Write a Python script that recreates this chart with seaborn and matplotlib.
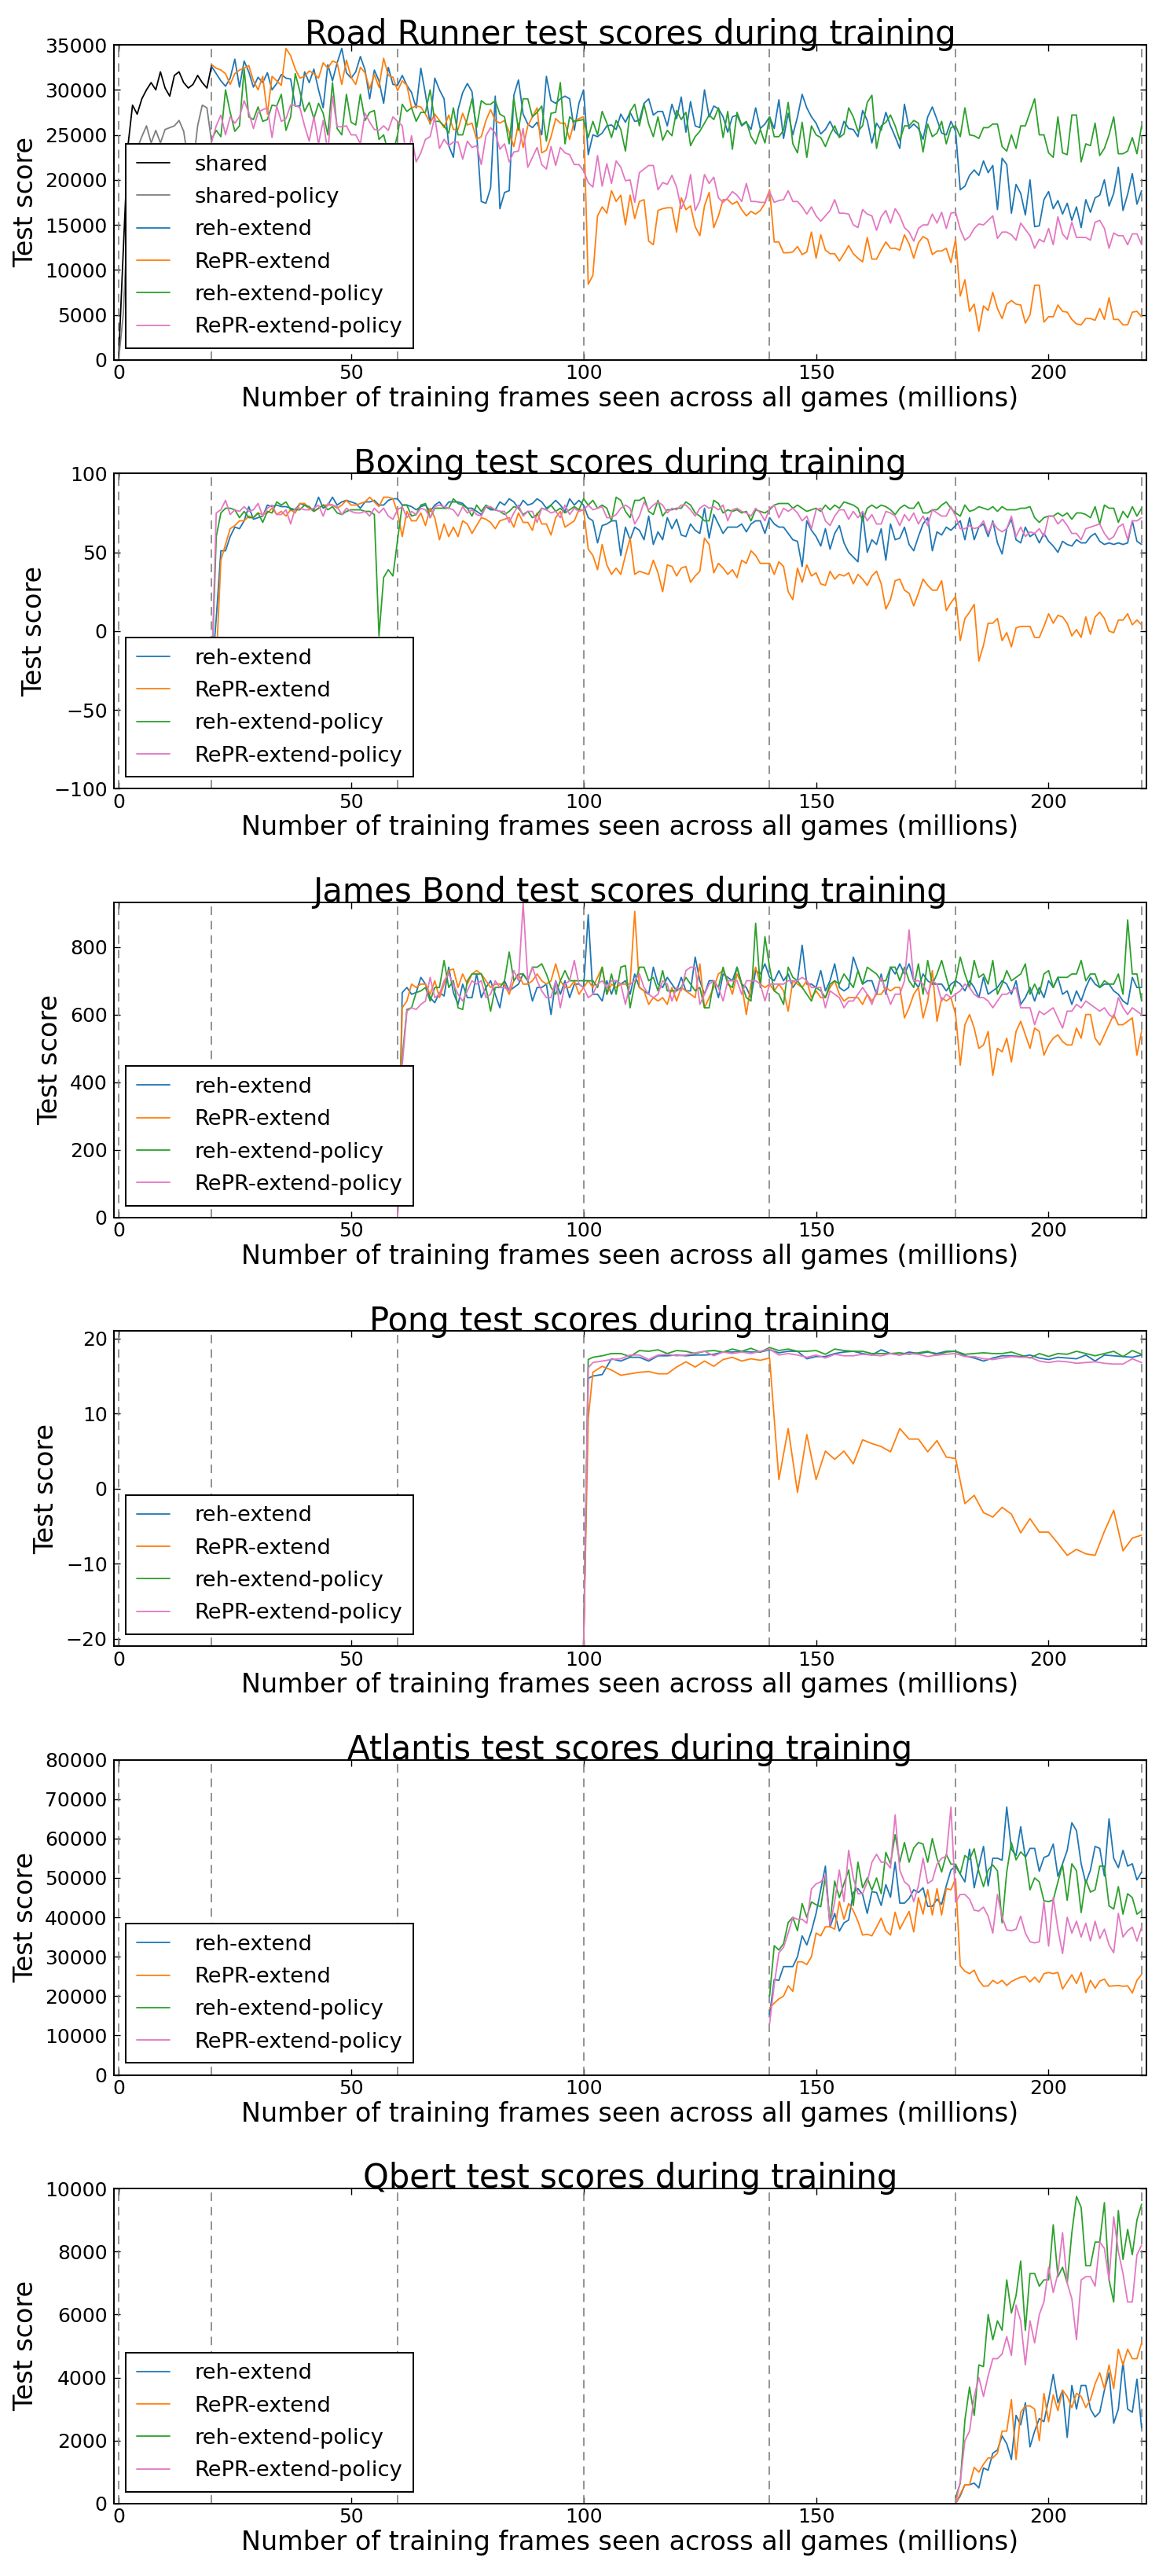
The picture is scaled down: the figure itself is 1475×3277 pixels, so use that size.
import numpy as np
import matplotlib.pyplot as plt
import seaborn as sns

# --- scores (x = millions of frames seen) ---
methods = ['reh-extend', 'RePR-extend', 'reh-extend-policy', 'RePR-extend-policy']
colors = ['#1f77b4', '#ff7f0e', '#2ca02c', '#e377c2']
task_edges = [0, 20, 60, 100, 140, 180, 220]

# Road Runner
x_shared = np.arange(0, 21)
rr_shared = [0, 12000, 23700, 28300, 27300, 29000, 30000, 30800, 30000, 32000, 30200,
             29300, 31600, 32000, 30800, 30200, 30600, 31600, 30800, 30200, 32700]
rr_shared_policy = [0, 5000, 16000, 21000, 23500, 24800, 26000, 24100, 25500, 24100, 25600,
                    25800, 26000, 26600, 25400, 22000, 21500, 26000, 28300, 28000, 24200]

x_rr = np.arange(20, 221)
rr_reh = [32600, 31800, 31000, 30400, 31300, 33400, 30300, 33200, 32000, 30300,
          31400, 30800, 31900, 30000, 30700, 31700, 31300, 31200, 28200, 28200,
          32000, 30800, 32300, 30000, 28000, 32800, 31000, 33000, 34600, 31900,
          31300, 32000, 33700, 32200, 29000, 32200, 31000, 28500, 32500, 30600,
          30500, 31600, 30500, 29700, 28000, 32400, 29500, 26200, 31300, 30000,
          29000, 23800, 22500, 27800, 29700, 30700, 29800, 25200, 17600, 17400,
          19100, 29300, 16800, 18600, 18800, 29400, 31100, 27300, 26200, 25800,
          26400, 25000, 31500, 28800, 28500, 29000, 29300, 29000, 25500, 28500,
          30000, 22800, 25000, 24800, 25200, 26000, 26100, 25600, 27300, 26400,
          27500, 26500, 26600, 28500, 29000, 27200, 27600, 27600, 26000, 28400,
          26800, 29200, 25300, 28700, 26000, 25800, 30000, 27000, 28200, 27900,
          27000, 25300, 27000, 27200, 26000, 26400, 25600, 28000, 25700, 26200,
          27000, 25700, 28900, 24600, 27400, 25000, 27000, 29500, 28000, 27000,
          26300, 25100, 25600, 26500, 25400, 24800, 26500, 25700, 25600, 24800,
          27700, 26600, 24100, 26300, 25500, 27500, 26000, 24800, 23500, 28400,
          25700, 26200, 25700, 24500, 27000, 28100, 26700, 25200, 25000, 26500,
          25400, 18900, 19300, 20500, 21100, 20500, 22100, 20800, 21600, 16700,
          22400, 21700, 16300, 19500, 18500, 16100, 20000, 14800, 14900, 17800,
          18700, 16800, 17700, 16200, 17400, 15500, 17000, 14700, 17800, 16400,
          18000, 18300, 20000, 17100, 18500, 21400, 16600, 18400, 20700, 17300,
          18800]
rr_repr = [32800, 32400, 32200, 31800, 30600, 31800, 32200, 32400, 32700, 31000,
           30000, 31500, 27300, 31500, 31000, 30500, 34600, 33800, 32300, 31300,
           31500, 32100, 31800, 31300, 33000, 32400, 33200, 33000, 30600, 33300,
           31400, 30600, 32500, 31900, 30100, 31700, 30300, 33500, 31600, 31400,
           29900, 31000, 30500, 28000, 28200, 28100, 27300, 26300, 27300, 26600,
           25800, 27200, 25600, 25600, 27400, 26100, 26300, 24500, 24800, 26600,
           27800, 26600, 26300, 26600, 25300, 23700, 26300, 23600, 26000, 27000,
           28000, 23000, 23300, 24800, 26800, 26300, 26300, 24500, 26500, 26800,
           27000, 8400, 9400, 16000, 17000, 16300, 18800, 17600, 18300, 15000,
           18300, 15700, 17600, 17800, 13200, 12800, 16600, 16800, 16900, 16900,
           14200, 18000, 16700, 17100, 14800, 13800, 17100, 18600, 14700, 16000,
           17800, 17800, 17300, 17600, 16700, 16000, 16500, 16200, 16600, 17400,
           18900, 13100, 13100, 11900, 11900, 12000, 12600, 11700, 12000, 14200,
           11300, 13900, 12200, 11800, 11800, 11000, 11800, 12700, 11800, 11300,
           10900, 13600, 11200, 11200, 12200, 13100, 12400, 12400, 12200, 13900,
           12900, 11300, 13000, 13700, 13400, 11700, 12100, 12100, 12400, 10800,
           13400, 7100, 8900, 5400, 6200, 3200, 6000, 5500, 7500, 5700,
           4600, 6200, 6600, 6200, 6100, 4100, 5000, 8300, 8300, 4200,
           4800, 4800, 6100, 5400, 5300, 4500, 4000, 3900, 4600, 4600,
           4400, 5700, 4500, 6900, 4500, 4500, 3900, 3900, 5300, 5400,
           4800]
rr_reh_policy = [24500, 25500, 24800, 30000, 27500, 25400, 26000, 32300, 27000, 26700,
                 28100, 26500, 26700, 28300, 28200, 29500, 25500, 27000, 31800, 29800,
                 27600, 28600, 26800, 28500, 27400, 25000, 30800, 25700, 25000, 29500,
                 26400, 26100, 29500, 26600, 27500, 27700, 24500, 25000, 23000, 23000,
                 25000, 28400, 27600, 28000, 26500, 27500, 27500, 30000, 26500, 26500,
                 26000, 25200, 28000, 25000, 25000, 26800, 29000, 25800, 28800, 28400,
                 28400, 28800, 27300, 27000, 24000, 29100, 25500, 29000, 29000, 27000,
                 27500, 28200, 24300, 27400, 27500, 30800, 24000, 27000, 26500, 26600,
                 26700, 24700, 26500, 25000, 27600, 26300, 24700, 26600, 25600, 23200,
                 27600, 28400, 26000, 28400, 26200, 24800, 27000, 24400, 25500, 24900,
                 27700, 26700, 27500, 23800, 24800, 25400, 26300, 27200, 26700, 28000,
                 24700, 27600, 23400, 27500, 26100, 26500, 24800, 24000, 25600, 24100,
                 27000, 24800, 24800, 25500, 28600, 24000, 23000, 26400, 22500, 26000,
                 25000, 24700, 23700, 25000, 26000, 24700, 25100, 28000, 27000, 25400,
                 26000, 28600, 29400, 23500, 26000, 26400, 27200, 26000, 24400, 26000,
                 26000, 26600, 26300, 23100, 26200, 24800, 25200, 26500, 24000, 25800,
                 26000, 24800, 28000, 25000, 24900, 24600, 25800, 25800, 26200, 26200,
                 23700, 23200, 25000, 23500, 26000, 26000, 27500, 29000, 25000, 25000,
                 23000, 22500, 27000, 23000, 22800, 27200, 27200, 22000, 24000, 23800,
                 26300, 22700, 23500, 25000, 27000, 22900, 22900, 23200, 24700, 22900,
                 26000]
rr_repr_policy = [24200, 26000, 27200, 25000, 27000, 26300, 27000, 28800, 27500, 25700,
                  27500, 27800, 28000, 24700, 28200, 26500, 26800, 28300, 28300, 28000,
                  26000, 24300, 27000, 24000, 26600, 23000, 29300, 25900, 25900, 26000,
                  25000, 25000, 24000, 27400, 26400, 25600, 25500, 26000, 25500, 27000,
                  26500, 26000, 22000, 24900, 22000, 23000, 24500, 24800, 27000, 23500,
                  24500, 23800, 24200, 24200, 22300, 24300, 23600, 23800, 21700, 24900,
                  25800, 25200, 23400, 24000, 22000, 23100, 23200, 25700, 21400, 22500,
                  23600, 21700, 21200, 23700, 21600, 23600, 23000, 22800, 21700, 21700,
                  21000, 19700, 19200, 22700, 19300, 21800, 19600, 22100, 21400, 19900,
                  20000, 17500, 20800, 21200, 21600, 21600, 18900, 19700, 19500, 20500,
                  19200, 16800, 18000, 20600, 16600, 17700, 20600, 19600, 20300, 18000,
                  17500, 18000, 18700, 18300, 17600, 19600, 17600, 17600, 17500, 17500,
                  18700, 17500, 17700, 17800, 18800, 17600, 17600, 17000, 16200, 17000,
                  16000, 15400, 16000, 16600, 17800, 16300, 16300, 16200, 15000, 14700,
                  16700, 16200, 16000, 14400, 15900, 16600, 15200, 16800, 16000, 14700,
                  14200, 13200, 14600, 15000, 15000, 16200, 15200, 16400, 14600, 16300,
                  16400, 14500, 13300, 13700, 14600, 15100, 15000, 15500, 16000, 13500,
                  14200, 14200, 13900, 13300, 15200, 14500, 13800, 12400, 13400, 13100,
                  14600, 12800, 15900, 14000, 13400, 15300, 13600, 13600, 13600, 13300,
                  15300, 15500, 14600, 12400, 14100, 13800, 13800, 12800, 14000, 14000,
                  12800]

# Boxing
x_box = np.arange(20, 221)
box_reh = [-30, 8, 51, 51, 60, 66, 65, 70, 79, 71,
           72, 73, 80, 79, 80, 79, 79, 78, 77, 81,
           80, 78, 77, 85, 78, 80, 85, 80, 82, 83,
           82, 81, 78, 82, 82, 83, 80, 80, 83, 84,
           84, 80, 80, 79, 77, 79, 80, 76, 80, 82,
           78, 82, 82, 82, 81, 78, 78, 76, 74, 79,
           77, 77, 82, 80, 84, 82, 78, 83, 80, 81,
           84, 82, 78, 80, 83, 80, 76, 84, 80, 83,
           80, 72, 70, 56, 67, 68, 70, 70, 48, 66,
           58, 66, 64, 58, 73, 55, 63, 58, 72, 65,
           71, 61, 60, 68, 64, 62, 78, 59, 74, 68,
           62, 66, 66, 66, 68, 63, 68, 70, 70, 62,
           72, 68, 66, 66, 62, 58, 57, 41, 70, 64,
           60, 54, 65, 52, 62, 67, 56, 50, 47, 44,
           75, 50, 58, 55, 65, 45, 68, 58, 59, 66,
           55, 51, 60, 68, 72, 51, 63, 61, 66, 64,
           67, 70, 58, 72, 58, 66, 68, 60, 70, 56,
           49, 65, 71, 58, 56, 66, 60, 62, 56, 62,
           57, 54, 50, 57, 55, 54, 58, 56, 56, 60,
           62, 57, 55, 56, 55, 56, 55, 56, 70, 57,
           55]
box_repr = [-30, -20, 45, 55, 65, 67, 70, 70, 73, 72,
            75, 74, 75, 78, 74, 76, 73, 77, 75, 81,
            81, 78, 76, 78, 80, 80, 80, 78, 80, 83,
            80, 80, 81, 82, 85, 82, 79, 85, 85, 84,
            75, 60, 76, 70, 70, 75, 67, 78, 72, 58,
            68, 60, 66, 60, 70, 68, 62, 67, 72, 71,
            69, 65, 70, 71, 72, 66, 75, 69, 69, 64,
            75, 68, 68, 61, 72, 76, 66, 68, 70, 77,
            77, 52, 48, 39, 55, 42, 36, 40, 36, 48,
            59, 36, 38, 37, 36, 45, 37, 25, 42, 41,
            35, 40, 41, 31, 35, 38, 59, 55, 37, 43,
            40, 36, 39, 34, 45, 43, 51, 48, 43, 43,
            43, 36, 44, 41, 25, 20, 40, 31, 42, 35,
            37, 30, 29, 38, 33, 36, 35, 37, 30, 36,
            33, 29, 35, 38, 30, 14, 20, 32, 33, 26,
            24, 16, 24, 33, 29, 26, 26, 32, 13, 18,
            22, -6, 8, 12, 17, -19, -9, 5, 5, 8,
            -6, -1, -10, 2, 3, 3, 3, -4, -4, 3,
            11, 5, 10, 9, 5, -3, 1, -4, 9, -2,
            9, 12, 8, 0, -1, 7, 7, 11, 4, 7,
            4]
box_reh_policy = [-30, 60, 75, 78, 78, 77, 72, 76, 72, 72,
                  75, 69, 76, 75, 82, 80, 82, 77, 77, 77,
                  80, 79, 76, 78, 80, 77, 79, 75, 74, 76,
                  77, 77, 77, 76, 76, 74, -3, 34, 39, 35,
                  58, 80, 80, 73, 74, 80, 81, 72, 78, 78,
                  78, 78, 84, 81, 80, 78, 73, 80, 76, 80,
                  78, 77, 76, 74, 76, 79, 78, 74, 76, 72,
                  74, 78, 77, 80, 76, 78, 75, 77, 79, 77,
                  84, 80, 83, 78, 80, 78, 70, 85, 83, 76,
                  72, 83, 83, 85, 76, 74, 83, 73, 77, 77,
                  78, 78, 82, 80, 75, 73, 70, 70, 83, 81,
                  75, 77, 76, 77, 75, 76, 70, 77, 76, 75,
                  77, 80, 81, 81, 81, 78, 80, 78, 76, 77,
                  78, 76, 80, 77, 80, 78, 82, 81, 80, 78,
                  70, 78, 80, 78, 80, 79, 77, 74, 78, 80,
                  78, 78, 82, 75, 75, 77, 77, 80, 82, 78,
                  75, 73, 80, 76, 77, 79, 78, 77, 79, 76,
                  79, 77, 77, 77, 78, 78, 79, 72, 69, 72,
                  73, 73, 75, 73, 75, 71, 75, 75, 74, 72,
                  79, 68, 80, 78, 78, 69, 76, 72, 79, 73,
                  78]
box_repr_policy = [-30, 75, 77, 83, 74, 77, 76, 79, 76, 77,
                   81, 73, 78, 80, 74, 74, 77, 68, 78, 78,
                   77, 77, 78, 80, 73, 81, 80, 79, 74, 78,
                   76, 75, 75, 76, 73, 78, 75, 78, 73, 71,
                   77, 79, 72, 76, 74, 78, 77, 72, 79, 80,
                   79, 78, 77, 73, 79, 75, 77, 74, 73, 79,
                   79, 77, 76, 76, 69, 75, 80, 73, 76, 76,
                   69, 78, 77, 75, 76, 72, 80, 74, 78, 76,
                   77, 80, 77, 78, 79, 72, 72, 74, 78, 80,
                   78, 68, 73, 82, 77, 80, 82, 80, 75, 78,
                   77, 80, 80, 77, 73, 78, 80, 78, 79, 77,
                   80, 70, 77, 78, 76, 75, 73, 78, 75, 70,
                   78, 80, 72, 78, 76, 78, 75, 70, 73, 65,
                   77, 78, 70, 67, 73, 77, 77, 71, 76, 72,
                   76, 70, 74, 68, 68, 76, 75, 73, 67, 74,
                   70, 75, 68, 73, 67, 77, 75, 73, 73, 79,
                   73, 65, 65, 67, 65, 66, 70, 62, 69, 65,
                   63, 65, 73, 60, 66, 60, 63, 62, 65, 60,
                   73, 73, 68, 71, 67, 62, 62, 58, 65, 66,
                   67, 68, 62, 58, 60, 66, 68, 58, 70, 70,
                   72]

# James Bond
x_jb = np.arange(60, 221)
jb_reh = [0, 665, 680, 660, 665, 710, 690, 650, 635, 665,
          655, 740, 665, 630, 690, 650, 650, 720, 650, 680,
          700, 660, 620, 700, 670, 680, 690, 720, 700, 640,
          680, 680, 690, 600, 700, 660, 700, 650, 690, 690,
          680, 895, 660, 660, 640, 700, 660, 700, 690, 700,
          660, 720, 680, 670, 660, 740, 690, 680, 710, 690,
          670, 710, 670, 670, 770, 700, 660, 700, 700, 650,
          720, 710, 700, 740, 690, 680, 650, 730, 720, 750,
          710, 700, 730, 700, 720, 680, 700, 805, 690, 690,
          680, 730, 670, 700, 750, 680, 670, 680, 770, 730,
          690, 700, 700, 660, 720, 660, 740, 720, 750, 720,
          750, 700, 680, 720, 700, 690, 690, 690, 670, 690,
          700, 690, 670, 700, 680, 650, 710, 660, 670, 680,
          700, 690, 660, 700, 630, 650, 680, 640, 680, 650,
          700, 680, 710, 660, 670, 630, 670, 640, 680, 710,
          690, 680, 690, 690, 670, 660, 640, 630, 710, 680,
          680]
jb_repr = [0, 620, 640, 690, 680, 690, 690, 660, 700, 650,
           690, 730, 735, 680, 720, 690, 720, 730, 720, 700,
           680, 690, 690, 690, 660, 700, 720, 690, 690, 700,
           720, 700, 690, 700, 750, 700, 680, 680, 700, 660,
           680, 700, 680, 710, 740, 660, 690, 680, 690, 690,
           690, 905, 680, 670, 630, 650, 640, 650, 630, 680,
           640, 680, 670, 660, 650, 750, 620, 650, 680, 720,
           730, 700, 660, 720, 690, 600, 690, 740, 690, 680,
           690, 670, 690, 670, 610, 700, 690, 680, 700, 650,
           670, 650, 650, 680, 700, 660, 640, 650, 650, 650,
           630, 660, 640, 660, 660, 680, 670, 680, 680, 590,
           620, 660, 680, 590, 640, 730, 580, 650, 640, 650,
           600, 450, 570, 600, 560, 500, 510, 550, 420, 500,
           490, 530, 460, 550, 580, 540, 500, 560, 550, 480,
           510, 530, 540, 520, 510, 510, 560, 530, 600, 600,
           530, 510, 540, 570, 600, 570, 570, 580, 590, 480,
           550]
jb_reh_policy = [0, 470, 615, 620, 665, 670, 680, 640, 680, 680,
                 760, 680, 700, 620, 615, 700, 720, 720, 720, 680,
                 610, 680, 680, 700, 785, 700, 720, 720, 700, 740,
                 740, 750, 720, 680, 660, 700, 730, 700, 700, 700,
                 700, 700, 700, 680, 740, 660, 720, 660, 740, 745,
                 620, 690, 740, 740, 700, 710, 670, 730, 670, 670,
                 670, 680, 710, 690, 670, 680, 620, 620, 700, 680,
                 740, 690, 680, 740, 690, 650, 640, 870, 680, 830,
                 740, 670, 660, 630, 740, 710, 700, 680, 660, 640,
                 680, 670, 650, 690, 700, 690, 720, 700, 680, 730,
                 690, 740, 730, 720, 700, 700, 740, 740, 700, 740,
                 700, 680, 750, 660, 760, 690, 720, 760, 710, 660,
                 700, 770, 720, 680, 760, 710, 720, 690, 760, 660,
                 690, 730, 700, 710, 720, 750, 660, 690, 660, 720,
                 730, 680, 710, 710, 710, 720, 720, 760, 700, 720,
                 720, 680, 700, 690, 690, 720, 660, 880, 720, 720,
                 640]
jb_repr_policy = [0, 450, 610, 620, 615, 630, 640, 710, 650, 660,
                  700, 720, 690, 660, 640, 670, 700, 690, 700, 650,
                  660, 700, 680, 680, 670, 730, 700, 930, 700, 740,
                  700, 670, 650, 650, 700, 620, 690, 700, 760, 690,
                  680, 650, 660, 690, 700, 680, 700, 700, 690, 630,
                  690, 700, 720, 680, 660, 650, 660, 700, 690, 640,
                  680, 670, 730, 740, 740, 630, 660, 690, 700, 680,
                  640, 700, 700, 700, 660, 700, 700, 700, 690, 640,
                  690, 690, 690, 690, 700, 700, 700, 710, 700, 680,
                  680, 680, 620, 670, 660, 650, 620, 640, 640, 660,
                  680, 660, 630, 670, 710, 670, 630, 660, 660, 700,
                  850, 700, 700, 690, 660, 700, 690, 640, 660, 650,
                  660, 670, 690, 680, 660, 650, 650, 640, 620, 640,
                  660, 660, 670, 680, 620, 620, 620, 570, 610, 600,
                  610, 620, 590, 560, 610, 610, 630, 620, 640, 630,
                  620, 610, 620, 600, 590, 650, 620, 600, 620, 610,
                  600]

# Pong
x_pong = np.r_[100, 101, np.arange(102, 221, 2)]
pong_reh = [-21, 14.7,
            15, 15.2, 17.3, 17, 17.5, 17.5, 17, 17.7, 17.7, 17.8,
            17.7, 17.8, 17.8, 17.9, 18.2, 18.2, 18.3, 18.2, 18.2, 18.5,
            18.1, 18.3, 18.3, 17.3, 17.6, 17.6, 18, 18.2, 18.3, 18,
            17.8, 18.5, 18, 17.8, 18.2, 18, 18.2, 18, 18.3, 18.3,
            17.7, 17.4, 17, 17.4, 17.7, 17.7, 17.6, 17.8, 17.4, 17.2,
            17.5, 17.4, 17.3, 17.8, 17.0, 17.8, 17.7, 17.6, 17.5, 17.8]
pong_repr = [-21, 9.3,
             15.5, 16.3, 15.8, 15.1, 15.3, 15.5, 15.6, 15.3, 15.3, 16.2,
             16.9, 16.2, 17, 16.3, 17.2, 17.5, 17, 17.3, 17.1, 17.4,
             1.2, 8, -0.5, 7.2, 1.2, 5, 3.9, 5, 3.3, 6.5,
             6, 5.6, 4.9, 8, 6.6, 6.6, 4.9, 6.4, 4.2, 4.0,
             -2, -0.9, -3.2, -3.8, -2.5, -3.4, -5.9, -4.0, -5.8, -5.8,
             -7.3, -8.9, -8.1, -8.7, -8.9, -5.7, -2.9, -8.3, -6.6, -6.2]
pong_reh_policy = [-21, 17.2,
                   17.5, 17.7, 18.0, 18.0, 17.6, 18.4, 18.3, 18.5, 18.0, 18.4,
                   18.3, 18.0, 18.3, 18.4, 18.2, 18.6, 18.3, 18.7, 18.2, 18.8,
                   18.4, 18.6, 18.3, 18.3, 18.4, 17.9, 18.6, 18.4, 18.3, 18.3,
                   18.0, 18.0, 18.0, 18.1, 17.9, 18.1, 18.3, 17.8, 18.2, 18.3,
                   17.9, 18.0, 18.1, 18.0, 18.0, 18.2, 17.8, 17.4, 18.0, 17.6,
                   18.0, 17.9, 18.3, 18.0, 17.7, 18.0, 18.3, 17.6, 18.4, 17.9]
pong_repr_policy = [-21, 16.1,
                    16.8, 17.0, 17.2, 17.3, 17.8, 17.8, 17.2, 17.8, 17.9, 17.7,
                    17.8, 18.1, 18.3, 17.7, 18.2, 18.0, 18.2, 18.0, 18.3, 18.6,
                    17.8, 18.0, 17.8, 17.5, 17.8, 17.4, 17.9, 17.7, 17.7, 17.9,
                    17.8, 17.7, 18.0, 17.8, 18.0, 17.9, 17.6, 17.8, 17.9, 18.0,
                    17.6, 17.6, 17.3, 17.2, 17.4, 17.6, 17.5, 17.5, 17.0, 16.8,
                    17.0, 16.9, 16.7, 16.8, 16.9, 16.7, 16.6, 16.6, 17.3, 16.8]

# Atlantis
x_atl = np.arange(140, 221)
atl_reh = [15300, 24200, 24000, 27500, 27500, 27500, 30000, 35300, 33000, 36500,
           41000, 47000, 53000, 37500, 41000, 36500, 38600, 39300, 46300, 47300,
           45800, 41000, 46500, 46300, 43000, 48300, 45100, 54000, 43600, 43600,
           44800, 47000, 46300, 47500, 42800, 42800, 44600, 43300, 48000, 52000,
           53000, 51000, 49000, 57300, 47500, 53000, 58000, 48000, 55000, 55000,
           54500, 68000, 57300, 55700, 63000, 55200, 57500, 57500, 51700, 55200,
           55700, 58600, 50400, 53600, 57000, 64000, 62000, 53600, 48700, 52000,
           58000, 57500, 50500, 65000, 55000, 52600, 57000, 53000, 53600, 49500,
           51500]
atl_repr = [17000, 18200, 19300, 20000, 22600, 21200, 28700, 28700, 28000, 30000,
            36000, 35300, 37600, 37600, 37000, 44000, 39500, 43500, 41700, 39000,
            35500, 35700, 35300, 37500, 39800, 36600, 35500, 41300, 37000, 39300,
            41500, 36300, 45000, 40800, 47000, 40600, 47300, 40600, 47300, 47000,
            49800, 27700, 26300, 25700, 26600, 24000, 22500, 22600, 24000, 23200,
            24000, 22700, 23700, 24300, 24800, 25000, 23600, 24800, 23500, 25700,
            26000, 25700, 26000, 21800, 23600, 25400, 23200, 26000, 20900, 24000,
            22000, 23800, 24300, 22500, 22600, 22700, 22500, 22600, 20800, 24000,
            25500]
atl_reh_policy = [20000, 32800, 31700, 33300, 38700, 40000, 36600, 43500, 40000, 43900,
                  43200, 42700, 50400, 38700, 49200, 45000, 48600, 52000, 43000, 54000,
                  47500, 50000, 46900, 50000, 46000, 56500, 53600, 61000, 54000, 59000,
                  54000, 57600, 59000, 58600, 54000, 60000, 55000, 51500, 56000, 53500,
                  53500, 51000, 55700, 54700, 57400, 51600, 47800, 52000, 53300, 51800,
                  38600, 51500, 59000, 54600, 56600, 55400, 47000, 50000, 49000, 44200,
                  44000, 44400, 49000, 53300, 44300, 53600, 51800, 41200, 49500, 46400,
                  47000, 53000, 53000, 42900, 42100, 47800, 40800, 46000, 45000, 40800,
                  41700]
atl_repr_policy = [13000, 23000, 31000, 32400, 36000, 40000, 39500, 39500, 38500, 47200,
                   48500, 49000, 50600, 38000, 44000, 52000, 44000, 57000, 50000, 46000,
                   46000, 49000, 54000, 56000, 54000, 54000, 52500, 66000, 52000, 49000,
                   48000, 44000, 48000, 55000, 48600, 49400, 53500, 55000, 55500, 68000,
                   43900, 45800, 45800, 44600, 41800, 41600, 42600, 40300, 36000, 45800,
                   40000, 36800, 36600, 37000, 40300, 36000, 33800, 33500, 33800, 44000,
                   32700, 45000, 37000, 30800, 40000, 36000, 39000, 35000, 38500, 34000,
                   39000, 34600, 37000, 33000, 31000, 41000, 35000, 36600, 37500, 34000,
                   37500]

# Qbert
x_qb = np.arange(180, 221)
qb_reh = [0, 250, 600, 600, 650, 500, 1130, 1060, 1600, 1700, 2150, 1900, 1400, 2800,
          2500, 3200, 1800, 2300, 2700, 2600, 3300, 4100, 3200, 3600, 2100, 3750, 3000,
          3750, 3750, 3000, 2750, 2900, 3600, 4150, 2550, 3000, 4500, 3000, 2900, 3950, 2400]
qb_repr = [0, 300, 600, 600, 1150, 1000, 1250, 1450, 1450, 1600, 2300, 2300, 3300, 1400,
           2900, 3100, 3100, 3000, 2000, 3500, 2600, 3450, 2950, 3600, 3400, 3050, 3500,
           3400, 3050, 3300, 3800, 4150, 3650, 4400, 3650, 4900, 4400, 4900, 4600, 4600, 5100]
qb_reh_policy = [200, 650, 2650, 3700, 2800, 4400, 4350, 6000, 5200, 5800, 5500, 7100, 6050,
                 6600, 7700, 5500, 7300, 7300, 6900, 7100, 7100, 8850, 7200, 7500, 7000, 8600,
                 9750, 9400, 7550, 7550, 8300, 8300, 9550, 7100, 6400, 9300, 7750, 8700, 7900,
                 9000, 9500]
qb_repr_policy = [0, 700, 2000, 2300, 3400, 4000, 3400, 4050, 4600, 4600, 4750, 5300, 4700,
                  6300, 5800, 4400, 5800, 5100, 6000, 6400, 7500, 6700, 7300, 8600, 7000, 6500,
                  5200, 7100, 7200, 7200, 6900, 8300, 8100, 7100, 9100, 8000, 7300, 6400, 6400,
                  7900, 8200]

panels = [
    ('Road Runner', x_rr, [rr_reh, rr_repr, rr_reh_policy, rr_repr_policy], (0, 35000), np.arange(0, 35001, 5000)),
    ('Boxing', x_box, [box_reh, box_repr, box_reh_policy, box_repr_policy], (-100, 100), [-100, -50, 0, 50, 100]),
    ('James Bond', x_jb, [jb_reh, jb_repr, jb_reh_policy, jb_repr_policy], (0, 932), [0, 200, 400, 600, 800]),
    ('Pong', x_pong, [pong_reh, pong_repr, pong_reh_policy, pong_repr_policy], (-21, 21), [-20, -10, 0, 10, 20]),
    ('Atlantis', x_atl, [atl_reh, atl_repr, atl_reh_policy, atl_repr_policy], (0, 80000), np.arange(0, 80001, 10000)),
    ('Qbert', x_qb, [qb_reh, qb_repr, qb_reh_policy, qb_repr_policy], (0, 10000), np.arange(0, 10001, 2000)),
]

# --- style: plain white axes, boxed, ticks inside ---
sns.set_style('white')
plt.rcParams['font.family'] = ['DejaVu Sans']
plt.rcParams['axes.edgecolor'] = 'black'
plt.rcParams['axes.linewidth'] = 1.4
plt.rcParams['text.color'] = 'black'
plt.rcParams['axes.labelcolor'] = 'black'
plt.rcParams['xtick.color'] = 'black'
plt.rcParams['ytick.color'] = 'black'

fig, axes = plt.subplots(6, 1, figsize=(14.75, 32.77), dpi=100)
fig.subplots_adjust(left=0.0983, right=0.989, top=0.9826, bottom=0.0281, hspace=0.3606)

for ax, (game, x, series, ylim, yticks) in zip(axes, panels):
    for v in task_edges:
        ax.axvline(v, color='#808080', linestyle=(0, (6.5, 4.5)), linewidth=1.2, zorder=1)

    if game == 'Road Runner':
        sns.lineplot(x=x_shared, y=rr_shared, ax=ax, color='black', linewidth=1.3, label='shared')
        sns.lineplot(x=x_shared, y=rr_shared_policy, ax=ax, color='#7f7f7f', linewidth=1.3,
                     label='shared-policy')
    for name, c, y in zip(methods, colors, series):
        sns.lineplot(x=x, y=y, ax=ax, color=c, linewidth=1.3, label=name)

    ax.set_xlim(-1, 221)
    ax.set_ylim(*ylim)
    ax.set_xticks([0, 50, 100, 150, 200])
    ax.set_yticks(yticks)
    ax.tick_params(direction='in', length=6, width=1, top=True, right=True,
                   bottom=True, left=True, labelsize=18)
    ax.tick_params(axis='x', pad=4)
    ax.tick_params(axis='y', pad=6)
    ax.set_title(f'{game} test scores during training', fontsize=30, pad=0.5)
    ax.set_xlabel('Number of training frames seen across all games (millions)', fontsize=24, labelpad=2.5)
    ax.set_ylabel('Test score', fontsize=24, labelpad=6)

    leg = ax.legend(loc='lower left', fontsize=19.7, handlelength=1.55, handletextpad=1.15,
                    labelspacing=0.56, borderpad=0.5, borderaxespad=0.55, fancybox=False,
                    framealpha=1, edgecolor='black')
    leg.get_frame().set_linewidth(1.4)

fig.savefig('out.png', dpi=100)
